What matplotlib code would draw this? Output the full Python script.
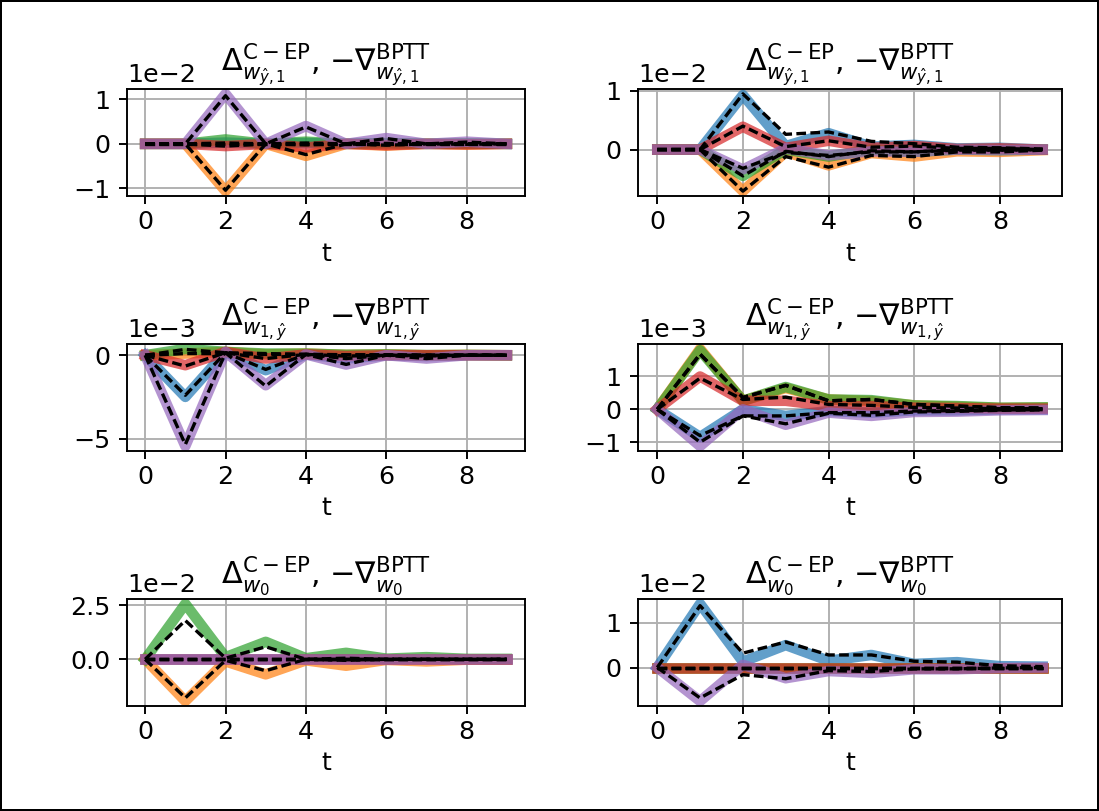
import matplotlib.pyplot as plt
import numpy as np

plt.rcParams['font.size'] = 10.6

# time steps
t = np.arange(10)

# titles of the three rows
titles = [r'$\Delta^{\mathrm{C-EP}}_{w_{\hat{y},1}}$, $-\nabla^{\mathrm{BPTT}}_{w_{\hat{y},1}}$',
          r'$\Delta^{\mathrm{C-EP}}_{w_{1,\hat{y}}}$, $-\nabla^{\mathrm{BPTT}}_{w_{1,\hat{y}}}$',
          r'$\Delta^{\mathrm{C-EP}}_{w_0}$, $-\nabla^{\mathrm{BPTT}}_{w_0}$']

# panel 1 (top left), units of 1e-2
cep_1 = [[0, 0, 0.03, 0, 0.02, 0, 0.01, 0, 0, 0],
         [0, 0, -1.06, 0, -0.27, 0, -0.04, 0, -0.02, 0],
         [0, 0, 0.10, 0, 0.05, 0, 0.02, 0, 0.01, 0],
         [0, 0, -0.05, 0, -0.08, 0, -0.03, 0, -0.01, 0],
         [0, 0, 1.12, 0, 0.40, 0, 0.13, 0, 0.05, 0]]
bptt_1 = [[0, 0, 0.0, 0, 0.0, 0, 0.0, 0, 0, 0],
          [0, 0, -1.04, 0, -0.24, 0, -0.03, 0, -0.01, 0],
          [0, 0, 0.02, 0, 0.02, 0, 0.01, 0, 0, 0],
          [0, 0, -0.05, 0, -0.02, 0, 0, 0, 0, 0],
          [0, 0, 1.08, 0, 0.38, 0, 0.12, 0, 0.04, 0]]

# panel 2 (top right), units of 1e-2
cep_2 = [[0, 0, 0.93, 0.06, 0.28, 0.05, 0.08, 0.02, 0.03, 0],
         [0, 0, -0.71, -0.04, -0.27, -0.06, -0.12, -0.03, -0.04, -0.01],
         [0, 0, -0.45, 0.0, -0.12, 0, -0.04, 0, -0.01, 0],
         [0, 0, 0.39, 0.03, 0.15, 0.03, 0.06, 0.01, 0.02, 0],
         [0, 0, -0.34, 0.02, -0.10, -0.03, -0.04, 0, -0.01, 0]]
bptt_2 = [[0, 0, 0.95, 0.26, 0.30, 0.14, 0.10, 0.04, 0.03, 0.01],
          [0, 0, -0.71, -0.12, -0.30, -0.10, -0.12, -0.04, -0.04, -0.01],
          [0, 0, -0.45, -0.03, -0.12, -0.02, -0.04, 0, -0.01, 0],
          [0, 0, 0.40, 0.05, 0.15, 0.04, 0.06, 0.02, 0.02, 0],
          [0, 0, -0.32, -0.05, -0.10, -0.04, -0.04, -0.01, -0.01, 0]]

# panel 3 (middle left), units of 1e-3
cep_3 = [[0, -2.5, 0.2, -0.9, 0.05, -0.2, 0, -0.05, 0, 0],
         [0, 0.1, 0.2, 0.05, 0.1, 0.02, 0.05, 0, 0.02, 0],
         [0, 0.38, 0.2, 0.1, 0.1, 0.03, 0.05, 0.01, 0.02, 0],
         [0, -0.6, 0.2, -0.2, 0.05, -0.05, 0, 0, 0, 0],
         [0, -5.45, 0.2, -1.8, 0.05, -0.56, 0, -0.2, 0, 0]]
bptt_3 = [[0, -2.4, 0.15, -0.85, 0.05, -0.2, 0, -0.05, 0, 0],
          [0, 0.1, 0.1, 0.05, 0.05, 0.02, 0.02, 0, 0.01, 0],
          [0, 0.35, 0.15, 0.1, 0.05, 0.03, 0.02, 0.01, 0.01, 0],
          [0, -0.65, 0.15, -0.2, 0.05, -0.05, 0, 0, 0, 0],
          [0, -5.35, 0.15, -1.85, 0.05, -0.55, 0, -0.2, 0, 0]]

# panel 4 (middle right), units of 1e-3
cep_4 = [[0, -0.84, 0.0, -0.2, -0.05, -0.1, -0.03, -0.03, 0, 0],
         [0, 1.84, 0.26, 0.65, 0.3, 0.25, 0.12, 0.08, 0.04, 0.05],
         [0, 1.80, 0.26, 0.68, 0.3, 0.28, 0.12, 0.1, 0.05, 0.06],
         [0, 1.0, 0.26, 0.26, 0.1, 0.1, 0.05, 0.04, 0.02, 0.02],
         [0, -1.12, 0.0, -0.47, -0.1, -0.2, -0.08, -0.07, -0.03, -0.02]]
bptt_4 = [[0, -0.8, -0.2, -0.2, -0.1, -0.1, -0.05, -0.04, -0.02, -0.01],
          [0, 1.68, 0.36, 0.73, 0.26, 0.3, 0.15, 0.1, 0.05, 0.04],
          [0, 1.68, 0.36, 0.73, 0.26, 0.3, 0.15, 0.1, 0.05, 0.04],
          [0, 0.95, 0.3, 0.37, 0.15, 0.12, 0.06, 0.04, 0.02, 0.02],
          [0, -1.0, -0.2, -0.44, -0.12, -0.18, -0.08, -0.06, -0.03, -0.02]]

# panel 5 (bottom left), units of 1e-2
cep_5 = [[0] * 10,
         [0, -1.94, -0.1, -0.7, -0.05, -0.3, -0.03, -0.1, -0.02, -0.02],
         [0, 2.57, 0.1, 0.81, 0.05, 0.3, 0.03, 0.1, 0.02, 0.02],
         [0] * 10,
         [0] * 10]
bptt_5 = [[0] * 10,
          [0, -1.79, -0.05, -0.53, 0, -0.05, 0, 0, 0, 0],
          [0, 1.8, 0.05, 0.58, 0, 0.05, 0, 0, 0, 0],
          [0] * 10,
          [0] * 10]

# panel 6 (bottom right), units of 1e-2
cep_6 = [[0, 1.42, 0.13, 0.5, 0.15, 0.28, 0.08, 0.12, 0.03, 0.02],
         [0] * 10,
         [0] * 10,
         [0] * 10,
         [0, -0.75, 0.06, -0.24, -0.08, -0.12, -0.04, -0.04, -0.01, 0]]
bptt_6 = [[0, 1.38, 0.32, 0.57, 0.28, 0.28, 0.14, 0.12, 0.04, 0.02],
          [0] * 10,
          [0] * 10,
          [0] * 10,
          [0, -0.68, -0.16, -0.25, -0.07, -0.09, -0.03, -0.03, -0.01, 0]]

panels = [(cep_1, bptt_1, 1e-2), (cep_2, bptt_2, 1e-2),
          (cep_3, bptt_3, 1e-3), (cep_4, bptt_4, 1e-3),
          (cep_5, bptt_5, 1e-2), (cep_6, bptt_6, 1e-2)]

dpi = 172
fig = plt.figure(figsize=(1099 / dpi, 811 / dpi), dpi=dpi,
                 edgecolor='black', linewidth=1)

# axes boxes [left, bottom, width, height]
col_x = [(0.1156, 0.3621), (0.5805, 0.3858)]
row_y = [0.7583, 0.4439, 0.1295]
h = 0.1319

for i, (cep, bptt, scale) in enumerate(panels):
    r, c = i // 2, i % 2
    ax = fig.add_axes([col_x[c][0], row_y[r], col_x[c][1], h])
    for k in range(5):
        ax.plot(t, np.array(cep[k]) * scale, color='C%d' % k, linewidth=4.4, alpha=0.7)
    for k in range(5):
        ax.plot(t, np.array(bptt[k]) * scale, color='k', linewidth=1.4,
                linestyle=(0, (2.9, 1.3)))
    ax.set_title(titles[r])
    ax.set_xlabel('t', labelpad=3)
    ax.tick_params(axis='x', pad=2.5)
    ax.grid(True)
    ax.ticklabel_format(axis='y', style='sci', scilimits=(0, 0))

fig.savefig('out.png', dpi=dpi)
